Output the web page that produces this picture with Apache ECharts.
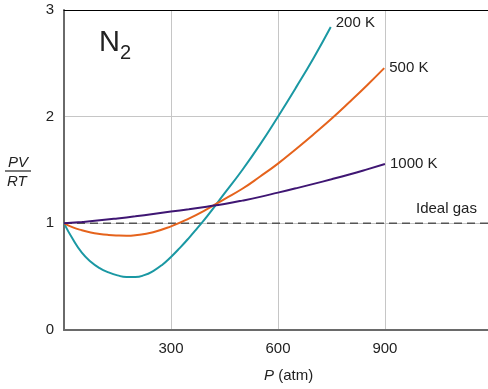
<!DOCTYPE html>
<html>
<head>
<meta charset="utf-8">
<script src="https://cdn.jsdelivr.net/npm/echarts@6/dist/echarts.min.js"></script>
<style>
html,body{margin:0;padding:0;background:#fff;}
#chart{width:488px;height:389px;}
</style>
</head>
<body>
<div id="chart"></div>
<script>
// Pressure (atm) and compressibility factor PV/RT for N2
const p200 = [0, 25, 50, 75, 100, 125, 150, 175, 200, 225, 250, 275, 300, 325, 350, 375, 400, 450, 500, 550, 600, 650, 700, 748];
const z200 = [1.0, 0.85, 0.725, 0.64, 0.58, 0.54, 0.512, 0.497, 0.497, 0.514, 0.553, 0.61, 0.685, 0.77, 0.862, 0.96, 1.06, 1.28, 1.50, 1.74, 2.0, 2.27, 2.55, 2.84];
const p500 = [0, 25, 50, 75, 100, 125, 150, 175, 200, 250, 300, 350, 400, 450, 500, 550, 600, 650, 700, 750, 800, 850, 898];
const z500 = [1.0, 0.962, 0.935, 0.914, 0.9, 0.891, 0.886, 0.884, 0.889, 0.917, 0.972, 1.045, 1.131, 1.228, 1.324, 1.439, 1.56, 1.695, 1.835, 1.98, 2.135, 2.295, 2.455];
const p1000 = [0, 50, 100, 150, 200, 250, 300, 350, 400, 450, 500, 550, 600, 650, 700, 750, 800, 850, 900];
const z1000 = [1.0, 1.013, 1.028, 1.046, 1.066, 1.088, 1.11, 1.132, 1.156, 1.182, 1.213, 1.248, 1.288, 1.328, 1.37, 1.413, 1.458, 1.506, 1.556];
const idealP = [0, 1189];
const idealZ = [1, 1];
const seriesNames = ['200 K', '500 K', '1000 K'];
const xTicks = [300, 600, 900];
const yTicks = [0, 1, 2, 3];

const zip = (a, b) => a.map((v, i) => [v, b[i]]);
const FONT = 'Liberation Sans, Arial, Helvetica, sans-serif';
const TXT = '#222';

const chart = echarts.init(document.getElementById('chart'), null, {renderer: 'canvas'});
const curve = (name, p, z, color, off) => ({
  type: 'line', name: name, data: zip(p, z), smooth: 0.5, showSymbol: false,
  lineStyle: {color: color, width: 2}, itemStyle: {color: color},
  endLabel: {show: true, formatter: name, distance: 5, offset: off,
    fontFamily: FONT, fontSize: 15, color: TXT},
  z: 3
});
chart.setOption({
  animation: false,
  grid: {left: 64, top: 10, right: 0, bottom: 59},
  xAxis: [{
    type: 'value', min: 0, max: 1189, interval: 300, position: 'bottom',
    axisLine: {show: true, lineStyle: {color: '#6a6a6a', width: 2}},
    axisTick: {show: false},
    splitLine: {show: true, lineStyle: {color: '#c6c6c6', width: 1}},
    axisLabel: {show: true, showMinLabel: false, showMaxLabel: false, margin: 11,
      fontFamily: FONT, fontSize: 15, color: TXT,
      formatter: v => xTicks.includes(v) ? String(v) : ''}
  }, {
    type: 'value', min: 0, max: 1189, position: 'top',
    axisLine: {show: true, lineStyle: {color: '#000', width: 1}},
    axisTick: {show: false}, axisLabel: {show: false}, splitLine: {show: false}
  }],
  yAxis: {
    type: 'value', min: 0, max: 3, interval: 1,
    axisLine: {show: true, lineStyle: {color: '#6a6a6a', width: 2}},
    axisTick: {show: false},
    splitLine: {show: true, lineStyle: {color: '#c6c6c6', width: 1}},
    axisLabel: {margin: 10, fontFamily: FONT, fontSize: 15, color: TXT,
      formatter: v => yTicks.includes(v) ? String(v) : ''}
  },
  series: [
    {type: 'line', data: zip(idealP, idealZ), showSymbol: false,
     lineStyle: {color: '#555', width: 1.5, type: [8, 5]}, z: 2, silent: true},
    curve(seriesNames[0], p200, z200, '#1a98a3', [0, -4]),
    curve(seriesNames[1], p500, z500, '#e5631c', [0, 0]),
    curve(seriesNames[2], p1000, z1000, '#3f1673', [0, 0])
  ],
  graphic: [
    {type: 'text', left: 99, top: 28, style: {
      text: '{n|N}{s|2}', fill: TXT,
      rich: {n: {fontFamily: FONT, fontSize: 29, fill: TXT},
             s: {fontFamily: FONT, fontSize: 20, fill: TXT, verticalAlign: 'bottom', padding: [0,0,-6,0]}}}},
    {type: 'text', left: 416, top: 201, style: {text: 'Ideal gas', font: '15px ' + FONT, fill: TXT}},
    {type: 'text', left: 264, top: 368, style: {
      text: '{i|P} (atm)', fill: TXT,
      rich: {i: {fontFamily: FONT, fontSize: 15, fontStyle: 'italic', fill: TXT}},
      font: '15px ' + FONT}},
    {type: 'text', left: 8, top: 155, style: {text: 'PV', font: 'italic 15px ' + FONT, fill: TXT}},
    {type: 'line', shape: {x1: 5, y1: 171, x2: 31, y2: 171}, style: {stroke: TXT, lineWidth: 1.2}},
    {type: 'text', left: 7, top: 174, style: {text: 'RT', font: 'italic 15px ' + FONT, fill: TXT}}
  ]
});
</script>
</body>
</html>
